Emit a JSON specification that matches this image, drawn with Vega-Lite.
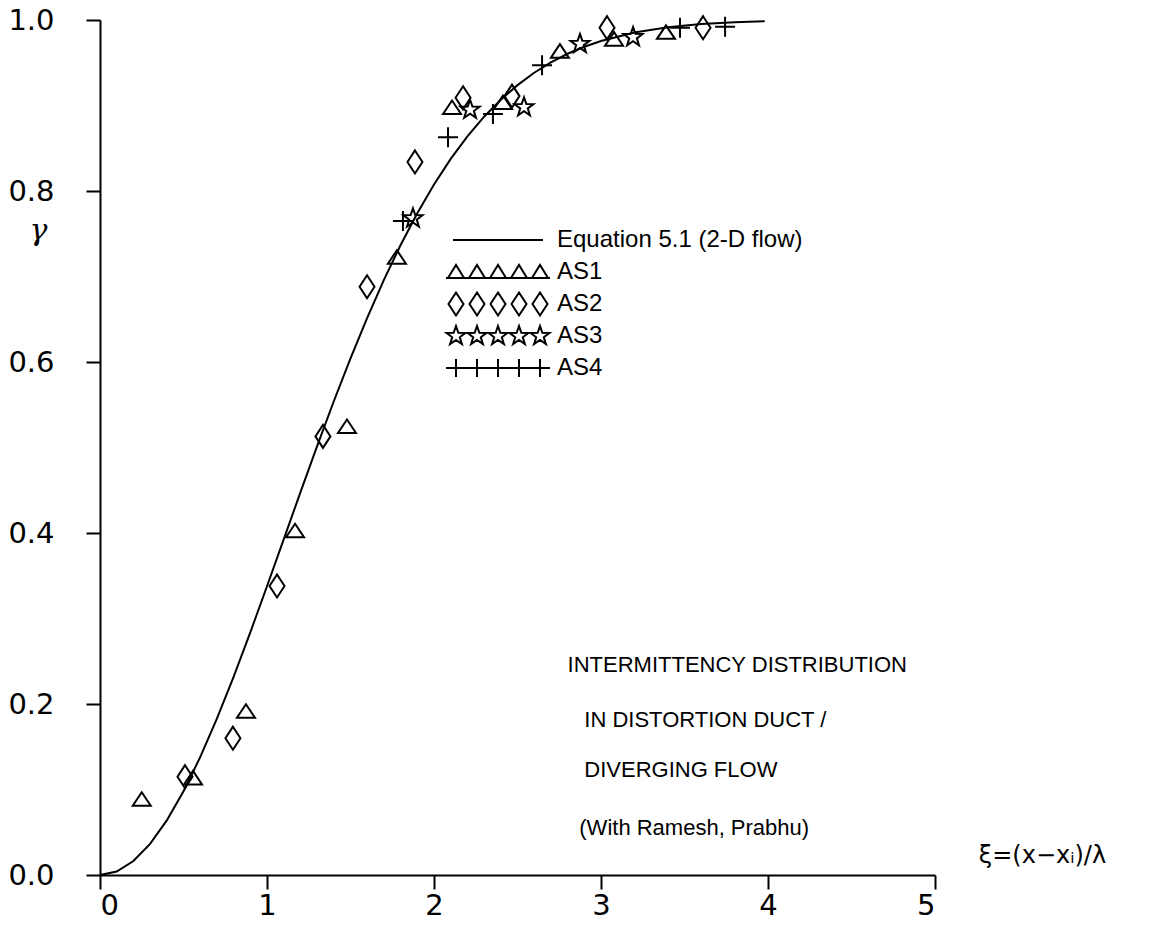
{
  "$schema": "https://vega.github.io/schema/vega-lite/v6.json",
  "width": 835,
  "height": 855,
  "autosize": {"type": "none"},
  "padding": {"left": 100, "top": 20, "right": 217, "bottom": 52},
  "background": "white",
  "config": {
    "view": {"stroke": null},
    "font": "Liberation Sans",
    "axis": {
      "domainColor": "black", "domainWidth": 2, "tickColor": "black", "tickWidth": 2, "tickSize": 14,
      "labelColor": "black", "labelFont": "DejaVu Sans", "labelFontSize": 29, "grid": false,
      "titleColor": "black", "titleFontWeight": "normal"
    }
  },
  "datasets": {
    "curve": [
      {"x": 0, "y": 0}, {"x": 0.1, "y": 0.0041}, {"x": 0.2, "y": 0.0163}, {"x": 0.3, "y": 0.0364},
      {"x": 0.4, "y": 0.0638}, {"x": 0.5, "y": 0.0979}, {"x": 0.6, "y": 0.1378}, {"x": 0.7, "y": 0.1828},
      {"x": 0.8, "y": 0.2318}, {"x": 0.9, "y": 0.2838}, {"x": 1.0, "y": 0.3377}, {"x": 1.1, "y": 0.3925},
      {"x": 1.2, "y": 0.4475}, {"x": 1.3, "y": 0.5016}, {"x": 1.4, "y": 0.5541}, {"x": 1.5, "y": 0.6043},
      {"x": 1.6, "y": 0.6517}, {"x": 1.7, "y": 0.696}, {"x": 1.8, "y": 0.7368}, {"x": 1.9, "y": 0.774},
      {"x": 2.0, "y": 0.8076}, {"x": 2.1, "y": 0.8375}, {"x": 2.2, "y": 0.8639}, {"x": 2.3, "y": 0.8869},
      {"x": 2.4, "y": 0.9068}, {"x": 2.5, "y": 0.9238}, {"x": 2.6, "y": 0.9383}, {"x": 2.7, "y": 0.9504},
      {"x": 2.8, "y": 0.9605}, {"x": 2.9, "y": 0.9687}, {"x": 3.0, "y": 0.9755}, {"x": 3.2, "y": 0.9853},
      {"x": 3.4, "y": 0.9915}, {"x": 3.6, "y": 0.9952}, {"x": 3.8, "y": 0.9974}, {"x": 3.98, "y": 0.9986}
    ],
    "points": [
      {"series": "AS1", "x": 0.25, "y": 0.088}, {"series": "AS1", "x": 0.557, "y": 0.113},
      {"series": "AS1", "x": 0.874, "y": 0.191}, {"series": "AS1", "x": 1.168, "y": 0.402},
      {"series": "AS1", "x": 1.479, "y": 0.524}, {"series": "AS1", "x": 1.778, "y": 0.722},
      {"series": "AS1", "x": 2.108, "y": 0.897}, {"series": "AS1", "x": 2.413, "y": 0.903},
      {"series": "AS1", "x": 2.754, "y": 0.963}, {"series": "AS1", "x": 3.078, "y": 0.977},
      {"series": "AS1", "x": 3.389, "y": 0.985},
      {"series": "AS2", "x": 0.509, "y": 0.115}, {"series": "AS2", "x": 0.796, "y": 0.16},
      {"series": "AS2", "x": 1.06, "y": 0.338}, {"series": "AS2", "x": 1.335, "y": 0.513},
      {"series": "AS2", "x": 1.599, "y": 0.688}, {"series": "AS2", "x": 1.886, "y": 0.834},
      {"series": "AS2", "x": 2.174, "y": 0.909}, {"series": "AS2", "x": 2.467, "y": 0.911},
      {"series": "AS2", "x": 3.036, "y": 0.991}, {"series": "AS2", "x": 3.611, "y": 0.991},
      {"series": "AS3", "x": 1.874, "y": 0.768}, {"series": "AS3", "x": 2.216, "y": 0.895},
      {"series": "AS3", "x": 2.539, "y": 0.898}, {"series": "AS3", "x": 2.874, "y": 0.972},
      {"series": "AS3", "x": 3.192, "y": 0.98},
      {"series": "AS4", "x": 1.814, "y": 0.765}, {"series": "AS4", "x": 2.084, "y": 0.863},
      {"series": "AS4", "x": 2.353, "y": 0.89}, {"series": "AS4", "x": 2.647, "y": 0.947},
      {"series": "AS4", "x": 3.473, "y": 0.991}, {"series": "AS4", "x": 3.743, "y": 0.992}
    ],
    "legend": [
      {"label": "Equation 5.1 (2-D flow)"}, {"label": "AS1"}, {"label": "AS2"}, {"label": "AS3"}, {"label": "AS4"}
    ],
    "notes": [
      {"x": 2.80, "y": 0.246, "t": "INTERMITTENCY  DISTRIBUTION"},
      {"x": 2.90, "y": 0.181, "t": "IN  DISTORTION  DUCT /"},
      {"x": 2.90, "y": 0.123, "t": "DIVERGING    FLOW"},
      {"x": 2.87, "y": 0.055, "t": "(With   Ramesh, Prabhu)"}
    ]
  },
  "resolve": {"scale": {"shape": "independent"}},
  "encoding": {
    "x": {
      "field": "x", "type": "quantitative",
      "scale": {"domain": [0, 5], "nice": false, "zero": false},
      "axis": {
        "values": [0, 1, 2, 3, 4, 5], "format": "d", "labelPadding": 2,
        "title": "ξ=(x−xᵢ)/λ", "titleX": 942, "titleY": -20, "titleAlign": "center",
        "titleBaseline": "middle", "titleFontSize": 24, "titleFont": "DejaVu Sans"
      }
    },
    "y": {
      "field": "y", "type": "quantitative",
      "scale": {"domain": [0, 1], "nice": false},
      "axis": {
        "values": [0, 0.2, 0.4, 0.6, 0.8, 1.0], "format": ".1f", "labelPadding": 32,
        "title": "γ", "titleAngle": 0, "titleX": -62, "titleY": 210, "titleAlign": "center",
        "titleBaseline": "middle", "titleFontSize": 30, "titleFont": "DejaVu Serif", "titleFontStyle": "italic"
      }
    }
  },
  "layer": [
    {
      "data": {"name": "curve"},
      "mark": {"type": "line", "color": "black", "strokeWidth": 2}
    },
    {
      "data": {"name": "points"},
      "mark": {"type": "point", "filled": false, "stroke": "black", "strokeWidth": 2, "size": 100, "opacity": 1},
      "encoding": {
        "shape": {
          "field": "series", "type": "nominal", "legend": null,
          "scale": {
            "domain": ["AS1", "AS2", "AS3", "AS4"],
            "range": [
              "M-1.8,1.2L1.8,1.2L0,-1.5Z",
              "M0,-2.3L1.5,0L0,2.3L-1.5,0Z",
              "M0,-2L0.47,-0.65L1.9,-0.62L0.76,0.25L1.18,1.62L0,0.8L-1.18,1.62L-0.76,0.25L-1.9,-0.62L-0.47,-0.65Z",
              "M-2,0H2M0,-2V2"
            ]
          }
        }
      }
    },
    {
      "data": {"name": "legend"},
      "transform": [{"filter": "false"}],
      "mark": {"type": "point", "filled": false, "stroke": "black", "strokeWidth": 2, "size": 100, "opacity": 1},
      "encoding": {
        "shape": {
          "field": "label", "type": "nominal",
          "scale": {
            "domain": ["Equation 5.1 (2-D flow)", "AS1", "AS2", "AS3", "AS4"],
            "range": [
              "M0,-2.35M0,2.35M-9,0H9",
              "M0,-2.35M0,2.35M-10,1.2L-6.8,1.2L-8.4,-1.4ZM-5.8,1.2L-2.6,1.2L-4.2,-1.4ZM-1.6,1.2L1.6,1.2L0,-1.4ZM2.6,1.2L5.8,1.2L4.2,-1.4ZM6.8,1.2L10,1.2L8.4,-1.4ZM-10.4,1.2H10.4",
              "M0,-2.35M0,2.35M-8.4,-2.3L-6.9,0L-8.4,2.3L-9.9,0ZM-4.2,-2.3L-2.7,0L-4.2,2.3L-5.7,0ZM0,-2.3L1.5,0L0,2.3L-1.5,0ZM4.2,-2.3L5.7,0L4.2,2.3L2.7,0ZM8.4,-2.3L9.9,0L8.4,2.3L6.9,0Z",
              "M0,-2.35M0,2.35M-8.4,-2L-7.93,-0.65L-6.5,-0.62L-7.64,0.25L-7.22,1.62L-8.4,0.8L-9.58,1.62L-9.16,0.25L-10.3,-0.62L-8.87,-0.65ZM-4.2,-2L-3.73,-0.65L-2.3,-0.62L-3.44,0.25L-3.02,1.62L-4.2,0.8L-5.38,1.62L-4.96,0.25L-6.1,-0.62L-4.67,-0.65ZM0,-2L0.47,-0.65L1.9,-0.62L0.76,0.25L1.18,1.62L0,0.8L-1.18,1.62L-0.76,0.25L-1.9,-0.62L-0.47,-0.65ZM4.2,-2L4.67,-0.65L6.1,-0.62L4.96,0.25L5.38,1.62L4.2,0.8L3.02,1.62L3.44,0.25L2.3,-0.62L3.73,-0.65ZM8.4,-2L8.87,-0.65L10.3,-0.62L9.16,0.25L9.58,1.62L8.4,0.8L7.22,1.62L7.64,0.25L6.5,-0.62L7.93,-0.65Z",
              "M0,-2.35M0,2.35M-10.4,0H10.4M-8.4,-1.8V1.8M-4.2,-1.8V1.8M0,-1.8V1.8M4.2,-1.8V1.8M8.4,-1.8V1.8"
            ]
          },
          "legend": {
            "orient": "none", "legendX": 386, "legendY": 208, "title": null, "padding": 0,
            "labelFontSize": 24, "labelFont": "Liberation Sans", "labelColor": "black", "labelOffset": 47,
            "rowPadding": 0, "symbolSize": 100, "symbolStrokeWidth": 2, "symbolStrokeColor": "black",
            "symbolFillColor": "transparent", "symbolOpacity": 1, "labelLimit": 400
          }
        }
      }
    },
    {
      "data": {"name": "notes"},
      "mark": {"type": "text", "align": "left", "baseline": "middle", "fontSize": 22, "font": "Liberation Sans", "color": "black"},
      "encoding": {"text": {"field": "t"}}
    }
  ]
}
